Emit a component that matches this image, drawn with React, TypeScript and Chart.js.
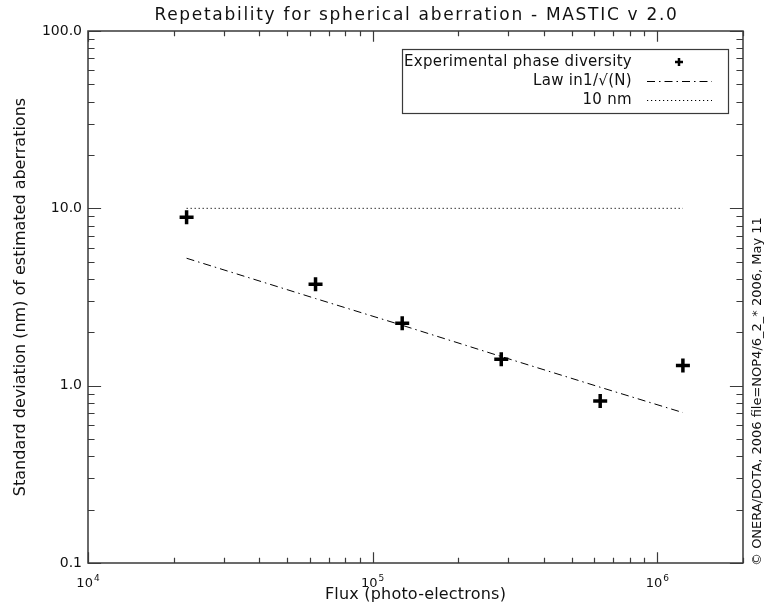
import React, { useEffect, useRef } from "react";
import { Chart, registerables } from "chart.js";

Chart.register(...registerables);

// ---- data ----
const FLUX = [2.22e4, 6.3e4, 1.27e5, 2.83e5, 6.3e5, 1.23e6];
const STD_NM = [8.9, 3.73, 2.25, 1.41, 0.82, 1.3];
const LAW_FLUX = [2.22e4, 6.3e4, 1.27e5, 2.83e5, 6.3e5, 1.23e6];
const LAW_NM = [5.23, 3.1, 2.19, 1.46, 0.98, 0.705];
const REF_FLUX = [2.22e4, 1.23e6];
const REF_NM = [10, 10];

const X_MAJOR = [1e4, 1e5, 1e6];
const X_MAJOR_EXP = ["4", "5", "6"];
const Y_MAJOR = [0.1, 1, 10, 100];
const Y_MAJOR_LABELS = ["0.1", "1.0", "10.0", "100.0"];
const MINOR_MULT = [2, 3, 4, 5, 6, 7, 8, 9];

const TITLE = "Repetability for spherical aberration - MASTIC v 2.0";
const X_TITLE = "Flux (photo-electrons)";
const Y_TITLE = "Standard deviation (nm) of estimated aberrations";
const SIDE_NOTE = "\u00A9 ONERA/DOTA, 2006 file=NOP4/6_2_* 2006, May 11";
const SERIES_LABELS = ["Experimental phase diversity", "Law in1/\u221A(N)", "10 nm"];

const FONT = "'DejaVu Sans', sans-serif";
const AXIS_COLOR = "#3a3a3a";
const TEXT_COLOR = "#111";

function setSpacing(ctx: any, px: number) {
  if ("letterSpacing" in ctx) ctx.letterSpacing = `${px}px`;
}

const decorPlugin = {
  id: "decor",
  afterDraw(chart: any) {
    const ctx: CanvasRenderingContext2D = chart.ctx;
    const { left, right, top, bottom } = chart.chartArea;
    const xs = chart.scales.x;
    const ys = chart.scales.y;
    const w = right - left;
    const h = bottom - top;
    const xMajLen = 0.02 * h;
    const yMajLen = 0.02 * w;
    ctx.save();
    ctx.strokeStyle = AXIS_COLOR;
    ctx.lineWidth = 1.5;
    ctx.strokeRect(left, top, w, h);
    ctx.lineWidth = 1.2;
    ctx.beginPath();
    X_MAJOR.forEach((v) => {
      [1, ...MINOR_MULT].forEach((m) => {
        const val = v * m;
        if (val > xs.max * 1.0001) return;
        const px = Math.round(xs.getPixelForValue(val)) + 0.5;
        const len = m === 1 ? xMajLen : xMajLen / 2;
        ctx.moveTo(px, bottom);
        ctx.lineTo(px, bottom - len);
        ctx.moveTo(px, top);
        ctx.lineTo(px, top + len);
      });
    });
    Y_MAJOR.forEach((v) => {
      [1, ...MINOR_MULT].forEach((m) => {
        const val = v * m;
        if (val > ys.max * 1.0001) return;
        const py = Math.round(ys.getPixelForValue(val)) + 0.5;
        const len = m === 1 ? yMajLen : yMajLen / 2;
        ctx.moveTo(left, py);
        ctx.lineTo(left + len, py);
        ctx.moveTo(right, py);
        ctx.lineTo(right - len, py);
      });
    });
    ctx.stroke();

    ctx.fillStyle = TEXT_COLOR;
    // y tick labels
    setSpacing(ctx, 0);
    ctx.font = `14px ${FONT}`;
    ctx.textAlign = "right";
    ctx.textBaseline = "middle";
    Y_MAJOR.forEach((v, i) => {
      ctx.fillText(Y_MAJOR_LABELS[i], left - 6, ys.getPixelForValue(v));
    });
    // x tick labels with superscript
    X_MAJOR.forEach((v, i) => {
      const px = xs.getPixelForValue(v);
      ctx.font = `13px ${FONT}`;
      const wb = ctx.measureText("10").width;
      ctx.font = `9px ${FONT}`;
      const we = ctx.measureText(X_MAJOR_EXP[i]).width;
      const x0 = px - (wb + we + 1) / 2;
      ctx.textAlign = "left";
      ctx.textBaseline = "alphabetic";
      ctx.font = `13px ${FONT}`;
      ctx.fillText("10", x0, bottom + 24);
      ctx.font = `9px ${FONT}`;
      ctx.fillText(X_MAJOR_EXP[i], x0 + wb + 1, bottom + 18);
    });
    // title
    ctx.textAlign = "center";
    ctx.textBaseline = "alphabetic";
    ctx.font = `17px ${FONT}`;
    setSpacing(ctx, 1.7);
    ctx.fillText(TITLE, (left + right) / 2 + 1, 20);
    // x title
    ctx.font = `16px ${FONT}`;
    setSpacing(ctx, 0.2);
    ctx.fillText(X_TITLE, (left + right) / 2, 599);
    // y title
    ctx.save();
    ctx.translate(25, (top + bottom) / 2);
    ctx.rotate(-Math.PI / 2);
    ctx.font = `16px ${FONT}`;
    setSpacing(ctx, 0);
    ctx.fillText(Y_TITLE, 0, 0);
    ctx.restore();
    // side note
    ctx.save();
    ctx.translate(761, 566);
    ctx.rotate(-Math.PI / 2);
    ctx.textAlign = "left";
    ctx.font = `13px ${FONT}`;
    setSpacing(ctx, 0);
    ctx.fillText(SIDE_NOTE, 0, 0);
    ctx.restore();

    // legend
    const bx = 402, by = 49, bw = 326, bh = 64;
    ctx.lineWidth = 1.2;
    ctx.strokeStyle = AXIS_COLOR;
    ctx.fillStyle = "#fff";
    ctx.fillRect(bx, by, bw, bh);
    ctx.strokeRect(bx + 0.5, by + 0.5, bw, bh);
    ctx.fillStyle = TEXT_COLOR;
    ctx.font = `15px ${FONT}`;
    setSpacing(ctx, 0.3);
    ctx.textAlign = "right";
    ctx.textBaseline = "middle";
    const rows = [62, 81, 100];
    rows.forEach((ry, i) => ctx.fillText(SERIES_LABELS[i], 632, ry));
    setSpacing(ctx, 0);
    ctx.strokeStyle = "#000";
    ctx.lineWidth = 2.5;
    ctx.beginPath();
    ctx.moveTo(675, rows[0]);
    ctx.lineTo(683, rows[0]);
    ctx.moveTo(679, rows[0] - 4);
    ctx.lineTo(679, rows[0] + 4);
    ctx.stroke();
    ctx.lineWidth = 1;
    ctx.setLineDash([8, 4, 1.5, 4]);
    ctx.beginPath();
    ctx.moveTo(647, rows[1] + 0.5);
    ctx.lineTo(712, rows[1] + 0.5);
    ctx.stroke();
    ctx.setLineDash([1.2, 2.8]);
    ctx.beginPath();
    ctx.moveTo(647, rows[2] + 0.5);
    ctx.lineTo(712, rows[2] + 0.5);
    ctx.stroke();
    ctx.restore();
  },
};

export default function App() {
  const ref = useRef<HTMLCanvasElement>(null);
  useEffect(() => {
    document.body.style.margin = "0";
    const ctx = ref.current!.getContext("2d")!;
    const chart = new Chart(ctx, {
      type: "scatter",
      data: {
        datasets: [
          {
            label: SERIES_LABELS[0],
            data: FLUX.map((x, i) => ({ x, y: STD_NM[i] })),
            pointStyle: "cross",
            pointRadius: 7,
            pointHoverRadius: 7,
            borderColor: "#000",
            backgroundColor: "#000",
            pointBorderWidth: 3.5,
            showLine: false,
            order: 0,
          },
          {
            label: SERIES_LABELS[1],
            data: LAW_FLUX.map((x, i) => ({ x, y: LAW_NM[i] })),
            showLine: true,
            borderColor: "#000",
            borderWidth: 1,
            borderDash: [8, 4, 1.5, 4],
            pointRadius: 0,
            fill: false,
            order: 1,
          },
          {
            label: SERIES_LABELS[2],
            data: REF_FLUX.map((x, i) => ({ x, y: REF_NM[i] })),
            showLine: true,
            borderColor: "#000",
            borderWidth: 1,
            borderDash: [1.2, 2.8],
            pointRadius: 0,
            fill: false,
            order: 2,
          },
        ],
      },
      options: {
        animation: false,
        responsive: false,
        maintainAspectRatio: false,
        layout: { padding: { top: 31, right: 22, left: 0, bottom: 0 } },
        plugins: { legend: { display: false }, tooltip: { enabled: false }, title: { display: false } },
        scales: {
          x: {
            type: "logarithmic",
            min: 1e4,
            max: 2e6,
            grid: { display: false, drawTicks: false },
            border: { display: false },
            ticks: { display: false },
            afterFit: (s: any) => {
              s.height = 49;
            },
          },
          y: {
            type: "logarithmic",
            min: 0.1,
            max: 100,
            grid: { display: false, drawTicks: false },
            border: { display: false },
            ticks: { display: false },
            afterFit: (s: any) => {
              s.width = 88;
            },
          },
        },
      },
      plugins: [decorPlugin],
    });
    return () => chart.destroy();
  }, []);
  return (
    <div style={{ position: "absolute", left: 0, top: 0, width: 765, height: 612, background: "#fff" }}>
      <canvas ref={ref} width={765} height={612} style={{ display: "block" }} />
    </div>
  );
}
